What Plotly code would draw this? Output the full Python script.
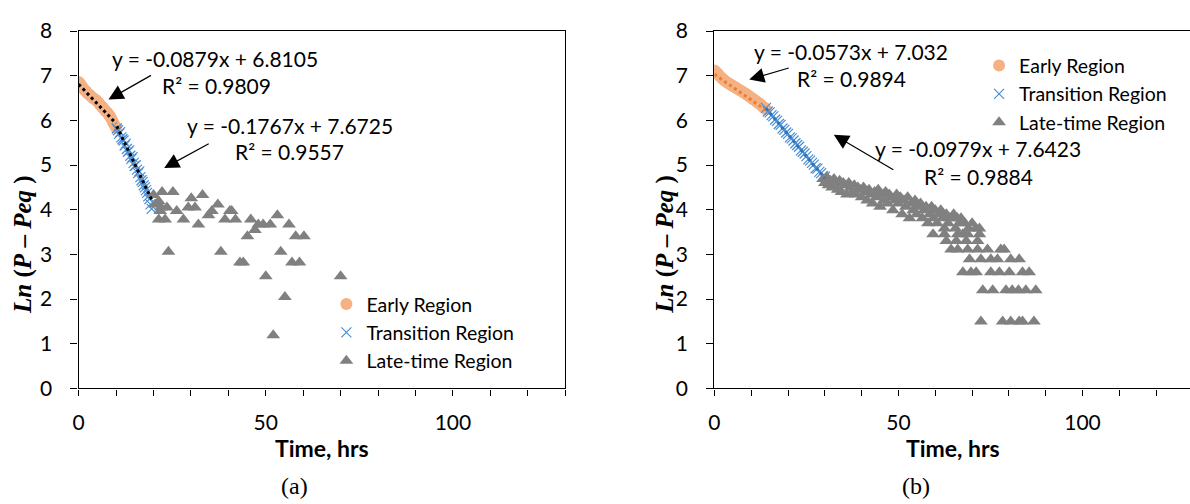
import plotly.graph_objects as go

# ---------------- data : panel (a) ----------------
a_early_x = [0.0, 0.4, 0.8, 1.2, 1.6, 2.0, 2.4, 2.8, 3.2, 3.6, 4.0, 4.4, 4.8, 5.2, 5.6, 6.0, 6.4, 6.8,
             7.2, 7.6, 8.0, 8.4, 8.8, 9.2, 9.6, 10.0]
a_early_y = [6.86, 6.82, 6.77, 6.72, 6.68, 6.65, 6.61, 6.58, 6.55, 6.52, 6.49, 6.47, 6.44, 6.41, 6.37,
             6.33, 6.29, 6.25, 6.21, 6.18, 6.14, 6.09, 6.03, 5.96, 5.90, 5.84]

a_trans_x = [10.2, 10.5, 10.8, 11.1, 11.4, 11.7, 12.0, 12.3, 12.6, 12.9, 13.2, 13.5, 13.8, 14.1, 14.4,
             14.7, 15.0, 15.3, 15.6, 15.9, 16.2, 16.5, 16.8, 17.1, 17.4, 17.7, 18.0, 18.3, 18.6, 18.9,
             19.2, 19.5]
a_trans_y = [5.82, 5.78, 5.70, 5.74, 5.62, 5.58, 5.55, 5.44, 5.48, 5.36, 5.30, 5.33, 5.21, 5.14, 5.18,
             5.05, 4.98, 5.00, 4.90, 4.82, 4.86, 4.73, 4.66, 4.62, 4.55, 4.50, 4.44, 4.38, 4.30, 4.24,
             4.12, 4.02]

a_late_x = [20.0, 20.5, 22.0, 22.3, 25.2, 21.4, 21.8, 23.6, 21.4, 23.1, 26.2, 28.0, 30.1, 33.1, 29.3,
            31.1, 32.0, 34.7, 35.6, 37.2, 39.1, 40.4, 41.9, 40.9, 46.0, 48.0, 49.3, 51.2, 53.1, 56.2,
            45.1, 47.1, 58.0, 60.2, 24.0, 38.0, 54.0, 43.1, 44.0, 57.0, 59.0, 50.0, 70.0, 55.1, 52.0]
a_late_y = [4.33, 4.12, 4.05, 4.40, 4.40, 4.19, 3.97, 4.05, 3.78, 3.78, 3.97, 3.78, 4.26, 4.33, 4.05,
            4.05, 3.67, 3.88, 3.97, 4.12, 3.78, 3.97, 3.78, 3.97, 3.78, 3.67, 3.67, 3.67, 3.88, 3.67,
            3.41, 3.55, 3.41, 3.41, 3.06, 3.06, 3.06, 2.82, 2.82, 2.82, 2.82, 2.51, 2.51, 2.05, 1.19]

a_fit_slope = [-0.0879, -0.1767]
a_fit_icpt = [6.8105, 7.6725]
a_fit_r2 = [0.9809, 0.9557]

# ---------------- data : panel (b) ----------------
b_early_x = [0.0, 0.5, 1.0, 1.5, 2.0, 2.5, 3.0, 3.5, 4.0, 4.5, 5.0, 5.5, 6.0, 6.5, 7.0, 7.5, 8.0, 8.5,
             9.0, 9.5, 10.0, 10.5, 11.0, 11.5, 12.0, 12.5, 13.0, 13.5, 14.0]
b_early_y = [7.12, 7.08, 7.04, 6.99, 6.95, 6.91, 6.88, 6.85, 6.82, 6.80, 6.77, 6.75, 6.72, 6.70, 6.67,
             6.65, 6.62, 6.60, 6.57, 6.54, 6.51, 6.48, 6.45, 6.42, 6.39, 6.36, 6.32, 6.29, 6.25]

b_trans_x = [14.0, 14.5, 15.0, 15.5, 16.0, 16.5, 17.0, 17.5, 18.0, 18.5, 19.0, 19.5, 20.0, 20.5, 21.0,
             21.5, 22.0, 22.5, 23.0, 23.5, 24.0, 24.5, 25.0, 25.5, 26.0, 26.5, 27.0, 27.5, 28.0, 28.5,
             29.0, 29.5, 30.0]
b_trans_y = [6.28, 6.20, 6.18, 6.12, 6.09, 6.02, 5.99, 5.92, 5.90, 5.82, 5.79, 5.73, 5.70, 5.62, 5.60,
             5.55, 5.49, 5.45, 5.41, 5.33, 5.30, 5.26, 5.20, 5.13, 5.10, 5.05, 5.01, 4.93, 4.92, 4.85,
             4.82, 4.76, 4.74]

b_late_x = [29.5, 30.0, 30.5, 31.0, 31.5, 32.0, 32.5, 33.0, 33.5, 34.0, 34.5, 35.0, 35.5, 36.0, 36.5,
            37.0, 37.5, 38.0, 38.5, 39.0, 39.5, 40.0, 40.5, 41.0, 41.5, 42.0, 42.5, 43.0, 43.5, 44.0,
            44.5, 45.0, 45.5, 46.0, 46.5, 47.0, 47.5, 48.0, 48.5, 49.0, 49.5, 50.0, 50.5, 51.0, 51.5,
            52.0, 52.5, 53.0, 53.5, 54.0, 54.5, 55.0, 55.5, 56.0, 56.5, 57.0, 57.5, 58.0, 58.5, 59.0,
            59.5, 60.0, 60.5, 61.0, 61.5, 62.0, 62.5, 63.0, 63.5, 64.0, 65.0, 65.5, 66.0, 66.5, 67.0,
            67.5, 68.0, 69.0, 70.0, 71.0, 72.0,
            59.4, 62.5, 66.1, 68.8, 72.0,
            63.0, 65.7, 68.4, 71.5,
            64.3, 66.1, 68.8, 71.5, 74.2, 77.8, 78.7,
            69.3, 72.4, 75.1, 76.9, 80.5, 82.8,
            67.5, 69.7, 71.1, 75.1, 77.4, 80.1, 83.7, 85.5,
            72.9, 75.6, 79.2, 80.9, 82.6, 84.6, 87.3,
            72.4, 78.3, 80.5, 82.8, 83.7, 86.8]
b_late_y = [4.69, 4.60, 4.73, 4.55, 4.65, 4.50, 4.69, 4.60, 4.45, 4.65, 4.40, 4.60, 4.55, 4.34, 4.60,
            4.50, 4.40, 4.55, 4.34, 4.50, 4.45, 4.28, 4.50, 4.40, 4.21, 4.45, 4.34, 4.14, 4.40, 4.28,
            4.45, 4.07, 4.34, 4.21, 4.40, 4.14, 4.34, 4.28, 3.99, 4.21, 4.34, 4.14, 4.28, 3.90, 4.21,
            4.07, 4.28, 3.81, 4.14, 3.99, 4.21, 3.90, 4.07, 4.14, 3.81, 3.99, 4.07, 3.70, 3.90, 4.07,
            3.81, 3.99, 3.70, 3.90, 3.99, 3.81, 3.58, 3.90, 3.70, 3.81, 3.90, 3.58, 3.81, 3.70, 3.81,
            3.45, 3.70, 3.58, 3.70, 3.58, 3.58,
            3.45, 3.45, 3.45, 3.45, 3.45,
            3.30, 3.30, 3.30, 3.30,
            3.11, 3.11, 3.11, 3.11, 3.11, 3.11, 3.11,
            2.89, 2.89, 2.89, 2.89, 2.89, 2.89,
            2.60, 2.60, 2.60, 2.60, 2.60, 2.60, 2.60, 2.60,
            2.20, 2.20, 2.20, 2.20, 2.20, 2.20, 2.20,
            1.50, 1.50, 1.50, 1.50, 1.50, 1.50]

b_fit_slope = [-0.0573, -0.0979]
b_fit_icpt = [7.032, 7.6423]
b_fit_r2 = [0.9894, 0.9884]

series_names = ["Early Region", "Transition Region", "Late-time Region"]
x_ticks = [0, 50, 100]
y_ticks = [0, 1, 2, 3, 4, 5, 6, 7, 8]

# ---------------- styling ----------------
W, H = 1190, 504
SANS = "Lato, Carlito, Calibri, sans-serif"
SERIF = "Liberation Serif, Times New Roman, serif"
C_EARLY = "#F4B183"
C_TRANS = "#4A8FD6"
C_LATE = "#808080"


def px(x):
    return x / W


def py(y):
    return 1 - y / H


fig = go.Figure()


def add_panel(xa, ya, leg, ex, ey, tx, ty, lx, ly, slopes, icpts, trend_colors):
    fig.add_trace(go.Scatter(x=ex, y=ey, mode="markers", name=series_names[0], xaxis=xa, yaxis=ya,
                             legend=leg, marker=dict(symbol="circle", size=12, color=C_EARLY)))
    fig.add_trace(go.Scatter(x=tx, y=ty, mode="markers", name=series_names[1], xaxis=xa, yaxis=ya,
                             legend=leg, marker=dict(symbol="x-thin", size=10,
                                                     line=dict(width=1.2, color=C_TRANS), color=C_TRANS)))
    fig.add_trace(go.Scatter(x=lx, y=ly, mode="markers", name=series_names[2], xaxis=xa, yaxis=ya,
                             legend=leg, marker=dict(symbol="triangle-up", size=12, color=C_LATE)))
    for (xs, m, c, col) in [(ex, slopes[0], icpts[0], trend_colors[0]),
                            (tx, slopes[1], icpts[1], trend_colors[1])]:
        x0, x1 = min(xs), max(xs)
        fig.add_trace(go.Scatter(x=[x0, x1], y=[m * x0 + c, m * x1 + c], mode="lines",
                                 showlegend=False, xaxis=xa, yaxis=ya, hoverinfo="skip",
                                 line=dict(color=col, width=3, dash="dot")))


add_panel("x", "y", "legend", a_early_x, a_early_y, a_trans_x, a_trans_y, a_late_x, a_late_y,
          a_fit_slope, a_fit_icpt, ["#000000", "#000000"])
add_panel("x2", "y2", "legend2", b_early_x, b_early_y, b_trans_x, b_trans_y, b_late_x, b_late_y,
          b_fit_slope, b_fit_icpt, ["#ED7D31", "#2E75B6"])

ydom = [py(394), py(18)]
xaxis_common = dict(tickvals=x_ticks, ticks="outside", ticklen=6, tickwidth=1.3, tickcolor="black",
                    showline=True, linecolor="black", linewidth=1.3, showgrid=False, zeroline=False,
                    tickfont=dict(family=SANS, size=21, color="black"), ticklabelstandoff=9,
                    minor=dict(dtick=10, ticks="outside", ticklen=6, tickwidth=1.3, tickcolor="black",
                               showgrid=False))
yaxis_common = dict(tickvals=y_ticks, range=[0, 8], ticks="outside", ticklen=7, tickwidth=1.3,
                    tickcolor="black", showline=True, linecolor="black", linewidth=1.3, showgrid=False,
                    zeroline=False, tickfont=dict(family=SANS, size=21, color="black"),
                    ticklabelstandoff=14, domain=ydom)

LEG_FONT = dict(family=SANS, size=19.5, color="black")
fig.update_layout(
    width=W, height=H, margin=dict(l=0, r=0, t=0, b=0),
    paper_bgcolor="white", plot_bgcolor="white",
    xaxis=dict(xaxis_common, domain=[px(73), px(562)], range=[0, 130], mirror=True, anchor="y"),
    yaxis=dict(yaxis_common, mirror=True, anchor="x"),
    xaxis2=dict(xaxis_common, domain=[px(712), 1.0], range=[0, 129.2], mirror=True, anchor="y2"),
    yaxis2=dict(yaxis_common, mirror=False, anchor="x2"),
    legend=dict(x=px(322), y=py(285), xanchor="left", yanchor="top", bgcolor="rgba(0,0,0,0)",
                font=LEG_FONT, tracegroupgap=0, itemsizing="trace"),
    legend2=dict(x=px(978), y=py(34), xanchor="left", yanchor="top", bgcolor="rgba(0,0,0,0)",
                 font=LEG_FONT, tracegroupgap=0, itemsizing="trace"),
)

annots = []


def text(xp, yp, s, size=21, family=SANS, bold=False):
    annots.append(dict(x=px(xp), y=py(yp), xref="paper", yref="paper", text=(f"<b>{s}</b>" if bold else s),
                       showarrow=False, xanchor="center", yanchor="middle",
                       font=dict(family=family, size=size, color="black")))


def arrow(tail, tip):
    annots.append(dict(x=px(tip[0]), y=py(tip[1]), xref="paper", yref="paper", text="",
                       showarrow=True, ax=tail[0] - tip[0], ay=tail[1] - tip[1],
                       arrowhead=2, arrowsize=2.5, arrowwidth=1.2, arrowcolor="black", standoff=0))


# panel (a) labels
text(210, 47, f"y = {a_fit_slope[0]}x + {a_fit_icpt[0]}")
text(212, 75, f"R² = {a_fit_r2[0]}")
text(285, 117, f"y = {a_fit_slope[1]}x + {a_fit_icpt[1]}")
text(285, 145, f"R² = {a_fit_r2[1]}")
arrow((147, 65), (103, 90))
arrow((205, 137), (159, 162))
# panel (b) labels
text(849, 39, f"y = {b_fit_slope[0]}x + {b_fit_icpt[0]}")
text(850, 68, f"R² = {b_fit_r2[0]}")
text(977, 142, f"y = {b_fit_slope[1]}x + {b_fit_icpt[1]}")
text(977, 171, f"R² = {b_fit_r2[1]}")
arrow((788, 57), (747, 69))
arrow((893, 163), (832, 127))

# axis titles and captions
text(318, 457, "Time, hrs", size=23, bold=True)
text(952, 457, "Time, hrs", size=23, bold=True)
text(290, 497, "(a)", size=24, family=SERIF)
text(915, 497, "(b)", size=24, family=SERIF)
ytitle = "<b><i>Ln</i> (<i>P</i> – <i>Peq</i> )</b>"
for xc in (17, 662):
    annots.append(dict(x=px(xc), y=py(242), xref="paper", yref="paper", text=ytitle, textangle=-90,
                       showarrow=False, xanchor="center", yanchor="middle",
                       font=dict(family=SERIF, size=25, color="black")))

fig.update_layout(annotations=annots)
fig.write_html("out.html")
